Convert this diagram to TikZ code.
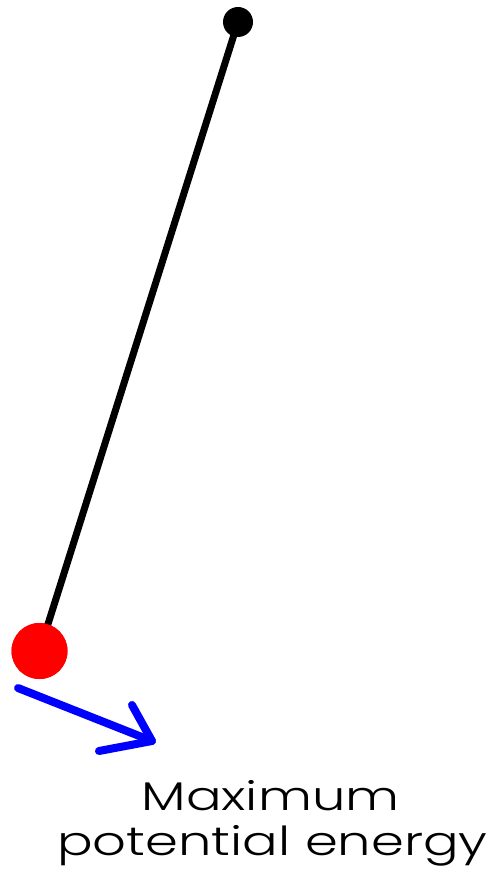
\documentclass[tikz,border=0pt]{standalone}
\usepackage{fontspec}
\setmainfont{Poppins}[UprightFont={* Light}]
\begin{document}
\begin{tikzpicture}[x=1pt,y=-1pt,
  rod/.style={line width=7pt,black},
  bob/.style={circle,fill=red,minimum size=56pt,inner sep=0pt},
  pivotdot/.style={circle,fill=black,minimum size=30pt,inner sep=0pt},
  arr/.style={line width=8pt,blue,line cap=round,line join=round},
  lbl/.style={font=\fontsize{40}{40}\selectfont,anchor=base,inner sep=0pt,xscale=1.32}]
\useasboundingbox (0,0) rectangle (500,874);
\fill[white] (0,0) rectangle (500,874);
\node[pivotdot] (pivot) at (238,22) {};
\node[bob] (ball) at (39.5,651) {};
\draw[rod] (pivot.center) -- (ball.center);
\node[bob] at (39.5,651) {};
\coordinate (a0) at (18,688);
\coordinate (tip) at (152,741);
\coordinate (h1) at (132,705);
\coordinate (h2) at (99,751);
\draw[arr] (a0) -- (tip);
\draw[arr] (h1) -- (tip) -- (h2);
\node[lbl] (l1) at (270.5,810) {Maximum};
\node[lbl] (l2) at (272.5,855) {potential energy};
\end{tikzpicture}
\end{document}
